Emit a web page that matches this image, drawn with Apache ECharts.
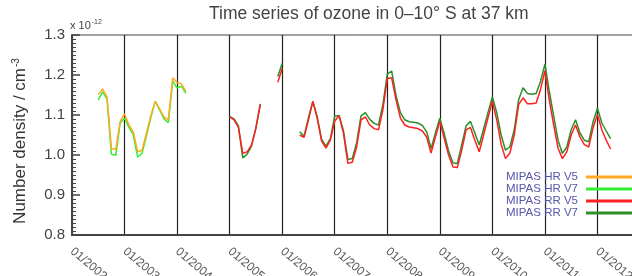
<!DOCTYPE html>
<html>
<head>
<meta charset="utf-8">
<script src="https://cdn.jsdelivr.net/npm/echarts@6/dist/echarts.min.js"></script>
<style>
  html, body { margin: 0; padding: 0; background: #fff; }
  #main { width: 632px; height: 276px; }
</style>
</head>
<body>
<div id="main"></div>
<script>
// monthly means, units of 1e-12 cm^-3
var hrStart = 2002 + 6 / 12; // 07/2002
var rrStart = 2005;          // 01/2005

var hrV5 = [1.151, 1.165, 1.145, 1.016, 1.014, 1.084, 1.103, 1.075, 1.058, 1.008, 1.012,
  1.055, 1.098, 1.134, 1.116, 1.095, 1.088, 1.193, 1.181, 1.178, 1.159];
var hrV7 = [1.138, 1.158, 1.140, 1.002, 0.999, 1.080, 1.092, 1.069, 1.050, 0.995, 1.004,
  1.048, 1.093, 1.134, 1.113, 1.090, 1.081, 1.185, 1.168, 1.172, 1.154];

var rrV5 = [
  1.096, 1.088, 1.069, 1.004, 1.008, 1.025, 1.067, 1.126, null, null, null, 1.182,
  1.216, null, null, null, 1.050, 1.044, 1.088, 1.134, 1.092, 1.035, 1.017, 1.037,
  1.085, 1.098, 1.054, 0.979, 0.982, 1.020, 1.088, 1.095, 1.075, 1.066, 1.063, 1.113,
  1.191, 1.193, 1.138, 1.092, 1.075, 1.070, 1.068, 1.066, 1.060, 1.045, 1.005, 1.045,
  1.084, 1.042, 1.000, 0.970, 0.969, 1.012, 1.063, 1.069, 1.037, 1.008, 1.050, 1.093,
  1.134, 1.088, 1.027, 0.991, 1.005, 1.050, 1.126, 1.143, 1.128, 1.128, 1.130, 1.164,
  1.210, 1.138, 1.075, 1.017, 0.991, 1.008, 1.050, 1.075, 1.045, 1.026, 1.020, 1.068,
  1.101, 1.063, 1.037, 1.015
];
var rrV7 = [
  1.096, 1.090, 1.073, 0.993, 1.002, 1.022, 1.068, 1.128, null, null, null, 1.196,
  1.229, null, null, null, 1.058, 1.047, 1.093, 1.134, 1.095, 1.039, 1.022, 1.041,
  1.097, 1.099, 1.060, 0.989, 0.991, 1.030, 1.098, 1.106, 1.089, 1.079, 1.075, 1.126,
  1.202, 1.210, 1.148, 1.106, 1.088, 1.083, 1.082, 1.080, 1.074, 1.058, 1.016, 1.055,
  1.092, 1.053, 1.010, 0.980, 0.979, 1.025, 1.073, 1.084, 1.055, 1.025, 1.065, 1.106,
  1.145, 1.106, 1.050, 1.012, 1.020, 1.063, 1.138, 1.168, 1.154, 1.152, 1.154, 1.184,
  1.227, 1.159, 1.098, 1.037, 1.004, 1.020, 1.063, 1.088, 1.055, 1.037, 1.033, 1.083,
  1.117, 1.080, 1.060, 1.041
];

var legendNames = ["MIPAS HR V5", "MIPAS HR V7", "MIPAS RR V5", "MIPAS RR V7"];
var yearMin = 2002;
var yearMax = 2013;

function toPairs(start, values) {
  var out = [];
  values.forEach(function (v, i) {
    out.push([start + i / 12, v]);
  });
  return out;
}

function lineSeries(name, color, data) {
  return {
    name: name,
    type: "line",
    color: color,
    symbol: "none",
    connectNulls: false,
    lineStyle: { width: 1.5, color: color },
    data: data,
  };
}

var chartDom = document.getElementById("main");
var myChart = echarts.init(chartDom);

var font = "Liberation Sans, Arial, sans-serif";

var option = {
  animation: false,
  textStyle: { fontFamily: font },
  title: {
    text: "Time series of ozone in 0\u201310\u00b0 S at 37 km",
    left: 204,
    top: 0,
    textStyle: { fontSize: 17.5, fontWeight: "normal", color: "#444", fontFamily: font },
  },
  legend: {
    data: legendNames,
    orient: "vertical",
    right: 0,
    top: 171,
    padding: 0,
    align: "right",
    icon: "rect",
    itemWidth: 46,
    itemHeight: 3,
    itemGap: 0,
    textStyle: { fontSize: 11.5, lineHeight: 12, color: "#5555aa", padding: [0, 3, 0, 0] },
  },
  grid: {
    left: 72,
    right: -18,
    top: 35,
    bottom: 41,
    outerBoundsMode: "none",
    containLabel: false,
    show: true,
    borderColor: "#444",
    borderWidth: 1,
  },
  graphic: [
    {
      type: "text",
      left: 70,
      top: 19,
      style: {
        text: "x 10{s|-12}",
        fontSize: 11,
        fill: "#444",
        fontFamily: font,
        rich: { s: { fontSize: 7, verticalAlign: "top", padding: [0, 0, 6, 1] } },
      },
    },
    {
      type: "text",
      x: 20,
      y: 141,
      rotation: Math.PI / 2,
      style: {
        text: "Number density / cm{s|-3}",
        fontSize: 17,
        fill: "#333",
        fontFamily: font,
        align: "center",
        verticalAlign: "middle",
        rich: { s: { fontSize: 10, verticalAlign: "top", padding: [0, 0, 8, 1] } },
      },
    },
  ],
  xAxis: {
    type: "value",
    min: yearMin,
    max: yearMax,
    interval: 1,
    axisLine: { show: true, lineStyle: { color: "#444", width: 2 } },
    axisTick: { show: false },
    splitLine: { show: true, lineStyle: { color: "#222", width: 1.2 } },
    axisLabel: {
      rotate: -40,
      margin: 15,
      fontSize: 12,
      color: "#555",
      formatter: function (v) {
        return "01/" + v;
      },
    },
  },
  yAxis: {
    type: "value",
    min: 0.8,
    max: 1.3,
    interval: 0.1,
    axisLine: { show: true, lineStyle: { color: "#444", width: 2 } },
    axisTick: { show: true, inside: true, length: 8, lineStyle: { color: "#444", width: 1.5 } },
    minorTick: { show: true, splitNumber: 10, length: 4, lineStyle: { color: "#444" } },
    splitLine: { show: false },
    axisLabel: {
      fontSize: 15,
      color: "#444",
      margin: 7,
      formatter: function (v) {
        return v.toFixed(1);
      },
    },
  },
  series: [
    lineSeries("MIPAS HR V7", "#33ee33", toPairs(hrStart, hrV7)),
    lineSeries("MIPAS HR V5", "#ffaa22", toPairs(hrStart, hrV5)),
    lineSeries("MIPAS RR V7", "#2a8f2a", toPairs(rrStart, rrV7)),
    lineSeries("MIPAS RR V5", "#ff2020", toPairs(rrStart, rrV5)),
  ],
};

option && myChart.setOption(option);
</script>
</body>
</html>
